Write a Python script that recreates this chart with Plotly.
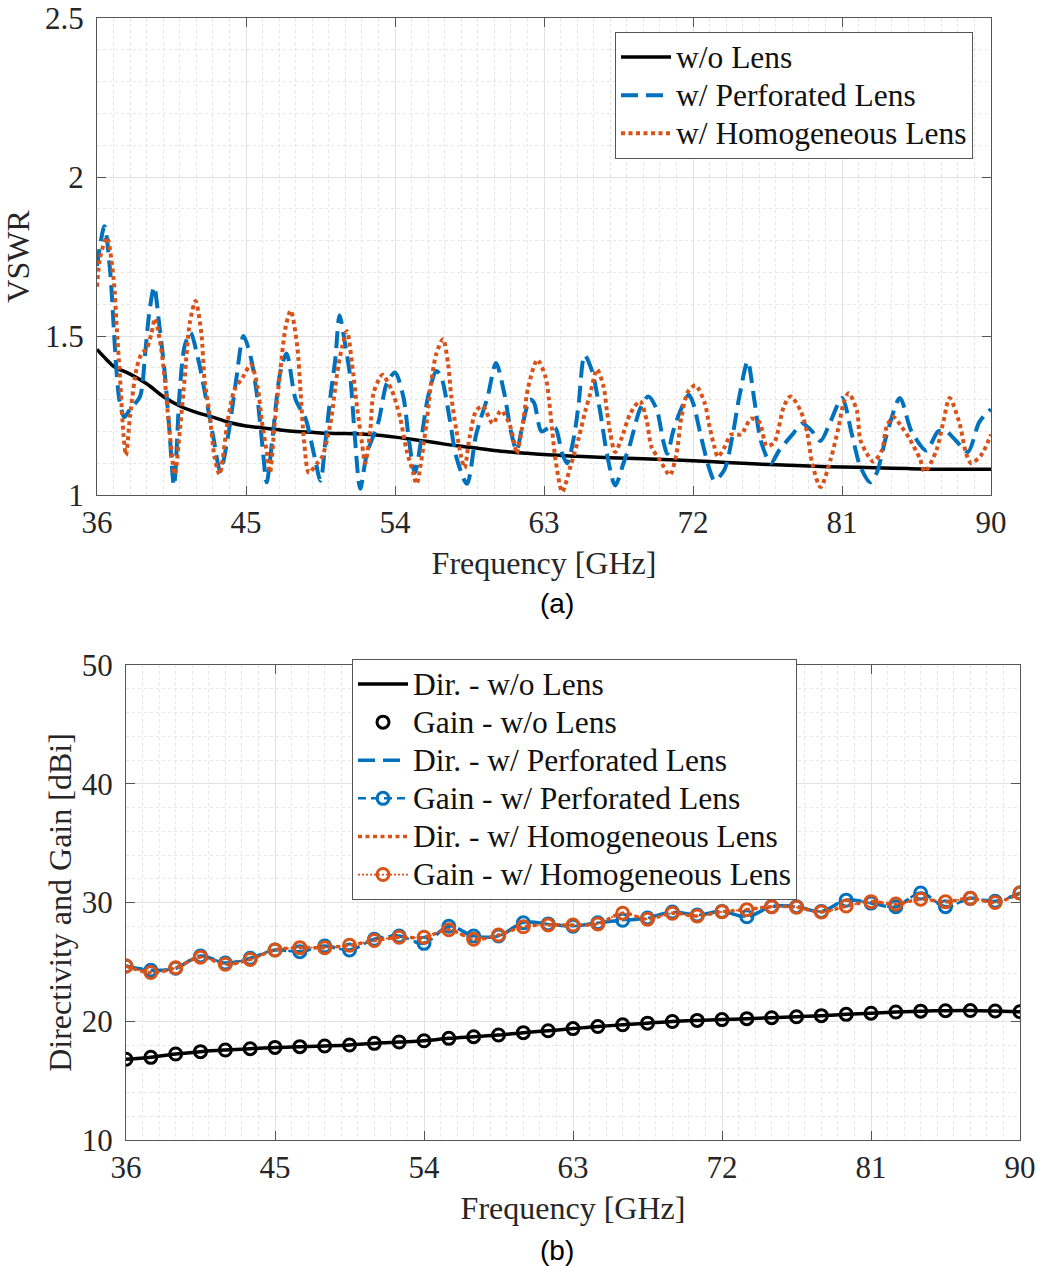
import plotly.graph_objects as go

# ---------------- (a) VSWR data ----------------
f_wo = [36, 36.5, 37, 38, 39, 40, 41, 42, 43, 44, 45, 46, 47, 48, 49, 50, 52, 53, 54, 55, 56, 57, 58, 59, 60,
        61, 62, 63, 65, 67, 69, 71, 73, 75, 77, 79, 81, 83, 85, 87, 89, 90]
vswr_wo = [1.458, 1.43, 1.405, 1.38, 1.35, 1.31, 1.28, 1.26, 1.245, 1.228, 1.217, 1.211, 1.205, 1.200, 1.197,
           1.194, 1.192, 1.188, 1.182, 1.175, 1.168, 1.16, 1.153, 1.147, 1.14, 1.135, 1.131, 1.127, 1.122,
           1.117, 1.114, 1.11, 1.105, 1.10, 1.095, 1.091, 1.088, 1.086, 1.083, 1.081, 1.081, 1.081]

f_perf = [36.0, 36.45, 36.8, 37.1, 37.35, 37.65, 38.0, 38.6, 38.9, 39.15, 39.45, 39.75, 40.1, 40.35, 40.65,
          41.0, 41.3, 41.65, 42.1, 42.6, 43.0, 43.45, 43.9, 44.4, 44.85, 45.3, 45.7, 46.0, 46.25, 46.6,
          47.05, 47.45, 48.0, 48.6, 49.1, 49.5, 49.8, 50.1, 50.4, 50.65, 51.0, 51.3, 51.55, 51.9, 52.3,
          53.0, 53.5, 54.0, 54.5, 54.85, 55.2, 55.6, 56.0, 56.5, 56.8, 57.3, 57.7, 58.35, 58.9, 59.6,
          60.1, 60.6, 61.0, 61.35, 61.7, 62.15, 62.4, 62.85, 63.4, 63.7, 64.1, 64.4, 64.8, 65.1, 65.45,
          65.9, 66.4, 66.8, 67.3, 67.8, 68.2, 68.8, 69.3, 69.8, 70.2, 70.45, 70.8, 71.2, 71.75, 72.0,
          72.5, 73.0, 73.3, 73.9, 74.4, 74.8, 75.3, 75.7, 76.1, 76.7, 77.2, 78.0, 78.6, 79.2, 79.7,
          80.3, 81.0, 81.6, 82.1, 82.7, 83.1, 83.7, 84.5, 85.2, 86.1, 86.8, 87.3, 87.9, 88.6, 89.3, 90.0]
vswr_perf = [1.72, 1.845, 1.70, 1.45, 1.30, 1.245, 1.27, 1.31, 1.44, 1.57, 1.655, 1.54, 1.38, 1.22, 1.03,
             1.33, 1.47, 1.51, 1.43, 1.30, 1.19, 1.075, 1.18, 1.36, 1.50, 1.43, 1.30, 1.15, 1.04, 1.18,
             1.38, 1.445, 1.30, 1.24, 1.13, 1.045, 1.17, 1.31, 1.43, 1.565, 1.47, 1.37, 1.20, 1.02, 1.13,
             1.23, 1.35, 1.385, 1.31, 1.17, 1.07, 1.18, 1.31, 1.39, 1.37, 1.24, 1.12, 1.035, 1.19, 1.31,
             1.415, 1.32, 1.20, 1.14, 1.22, 1.30, 1.29, 1.20, 1.215, 1.21, 1.13, 1.10, 1.18, 1.29, 1.44,
             1.39, 1.26, 1.13, 1.03, 1.10, 1.16, 1.27, 1.31, 1.27, 1.17, 1.13, 1.20, 1.26, 1.315, 1.29,
             1.18, 1.08, 1.045, 1.08, 1.19, 1.31, 1.42, 1.30, 1.17, 1.10, 1.14, 1.19, 1.225, 1.20, 1.17,
             1.23, 1.305, 1.19, 1.09, 1.04, 1.07, 1.19, 1.305, 1.20, 1.14, 1.20, 1.20, 1.17, 1.135, 1.23, 1.27]

f_homo = [36.0, 36.2, 36.6, 37.0, 37.2, 37.4, 37.6, 37.75, 38.0, 38.4, 38.7, 39.0, 39.3, 39.5, 39.85, 40.1,
          40.4, 40.7, 41.0, 41.3, 41.6, 41.95, 42.3, 42.5, 42.8, 43.1, 43.4, 43.9, 44.3, 44.8, 45.3, 45.7,
          45.95, 46.3, 46.45, 46.75, 47.05, 47.4, 47.7, 48.1, 48.3, 48.5, 48.8, 49.3, 49.6, 50.1, 50.5,
          50.8, 51.1, 51.4, 51.7, 52.0, 52.2, 52.5, 52.7, 53.1, 53.25, 53.8, 54.3, 54.7, 55.1, 55.3, 55.9,
          56.2, 56.5, 56.9, 57.2, 57.4, 57.7, 58.0, 58.2, 58.5, 58.9, 59.3, 59.9, 60.4, 60.9, 61.2, 61.35,
          61.75, 62.05, 62.6, 63.1, 63.3, 63.5, 63.7, 64.1, 64.6, 65.1, 65.5, 65.8, 66.2, 66.6, 66.8, 67.0,
          67.3, 67.7, 68.2, 68.8, 69.2, 69.5, 70.0, 70.6, 71.0, 71.3, 71.7, 72.15, 72.7, 73.0, 73.3, 73.5,
          73.9, 74.3, 74.9, 75.1, 75.5, 76.0, 76.45, 76.9, 77.5, 77.9, 78.5, 78.9, 79.2, 79.7, 80.3, 80.8,
          81.1, 81.4, 81.9, 82.1, 82.5, 82.9, 83.4, 83.7, 84.1, 84.6, 85.1, 85.7, 86.0, 86.7, 87.1, 87.5,
          88.1, 88.5, 88.8, 89.4, 90.0]
vswr_homo = [1.655, 1.75, 1.81, 1.68, 1.52, 1.36, 1.19, 1.125, 1.25, 1.40, 1.445, 1.46, 1.51, 1.555, 1.47,
             1.36, 1.19, 1.065, 1.20, 1.37, 1.54, 1.61, 1.51, 1.36, 1.255, 1.12, 1.065, 1.235, 1.33, 1.37,
             1.41, 1.34, 1.235, 1.12, 1.07, 1.235, 1.38, 1.53, 1.58, 1.465, 1.32, 1.175, 1.07, 1.10, 1.12,
             1.225, 1.38, 1.465, 1.515, 1.415, 1.28, 1.165, 1.10, 1.20, 1.32, 1.37, 1.378, 1.33, 1.245,
             1.14, 1.07, 1.035, 1.225, 1.36, 1.445, 1.49, 1.415, 1.31, 1.205, 1.12, 1.085, 1.18, 1.265,
             1.28, 1.225, 1.265, 1.225, 1.165, 1.13, 1.235, 1.34, 1.425, 1.37, 1.30, 1.20, 1.11, 1.01,
             1.09, 1.18, 1.265, 1.32, 1.395, 1.34, 1.265, 1.195, 1.135, 1.18, 1.255, 1.295, 1.235, 1.15,
             1.11, 1.063, 1.13, 1.245, 1.325, 1.345, 1.29, 1.215, 1.15, 1.12, 1.15, 1.19, 1.19, 1.205,
             1.24, 1.23, 1.155, 1.165, 1.28, 1.31, 1.265, 1.195, 1.10, 1.025, 1.11, 1.215, 1.29, 1.32,
             1.265, 1.175, 1.13, 1.105, 1.14, 1.215, 1.245, 1.215, 1.175, 1.115, 1.073, 1.14, 1.225, 1.305,
             1.225, 1.13, 1.10, 1.125, 1.19]

# ---------------- (b) Directivity / Gain data ----------------
f_gain = [36, 37.5, 39, 40.5, 42, 43.5, 45, 46.5, 48, 49.5, 51, 52.5, 54, 55.5, 57, 58.5, 60, 61.5, 63,
          64.5, 66, 67.5, 69, 70.5, 72, 73.5, 75, 76.5, 78, 79.5, 81, 82.5, 84, 85.5, 87, 88.5, 90]
dir_wo = [16.8, 16.96, 17.24, 17.44, 17.58, 17.69, 17.8, 17.86, 17.92, 18.0, 18.14, 18.25, 18.36, 18.56,
          18.7, 18.84, 19.04, 19.2, 19.38, 19.56, 19.7, 19.84, 19.98, 20.07, 20.14, 20.22, 20.3, 20.38,
          20.47, 20.58, 20.68, 20.78, 20.85, 20.89, 20.9, 20.86, 20.8]
gain_wo = dir_wo
dir_perf = [24.65, 24.3, 24.46, 25.5, 24.9, 25.3, 26.0, 25.86, 26.34, 26.0, 26.9, 27.18, 26.56, 28.0,
            27.18, 27.18, 28.3, 28.2, 28.0, 28.3, 28.5, 28.7, 29.2, 28.95, 29.25, 28.8, 29.65, 29.65,
            29.25, 30.2, 29.95, 29.65, 30.8, 29.65, 30.35, 30.1, 30.8]
gain_perf = dir_perf
dir_homo = [24.65, 24.1, 24.5, 25.4, 24.8, 25.2, 26.0, 26.2, 26.2, 26.4, 26.8, 27.07, 27.07, 27.7, 26.9,
            27.26, 27.96, 28.1, 28.1, 28.2, 29.1, 28.6, 29.1, 28.86, 29.22, 29.4, 29.65, 29.6, 29.2,
            29.7, 30.07, 29.87, 30.27, 30.07, 30.35, 30.0, 30.8]
gain_homo = dir_homo

x_ticks = [36, 45, 54, 63, 72, 81, 90]
y_ticks_a = [1, 1.5, 2, 2.5]
y_ticks_a_text = ["1", "1.5", "2", "2.5"]
y_ticks_b = [10, 20, 30, 40, 50]

BLUE = "#0072BD"
ORANGE = "#D95319"
SERIF = "Liberation Serif, Times New Roman, serif"


def lg(name):
    return '<span style="font-size:31.5px">' + name + '</span>'


fig = go.Figure()

# (a)
fig.add_trace(go.Scatter(x=f_wo, y=vswr_wo, name=lg("w/o Lens"), mode="lines",
                         line=dict(color="black", width=3.5, shape="spline"),
                         xaxis="x", yaxis="y", legend="legend", legendgroup="a1"))
fig.add_trace(go.Scatter(x=f_perf, y=vswr_perf, name=lg("w/ Perforated Lens"), mode="lines",
                         line=dict(color=BLUE, width=4, dash="17px,8px", shape="spline", smoothing=0.8),
                         xaxis="x", yaxis="y", legend="legend", legendgroup="a2"))
fig.add_trace(go.Scatter(x=f_homo, y=vswr_homo, name=lg("w/ Homogeneous Lens"), mode="lines",
                         line=dict(color=ORANGE, width=4, dash="4px,3.5px", shape="spline", smoothing=0.8),
                         xaxis="x", yaxis="y", legend="legend", legendgroup="a3"))

# (b)
fig.add_trace(go.Scatter(x=f_gain, y=dir_wo, name=lg("Dir. - w/o Lens"), mode="lines",
                         line=dict(color="black", width=3.5, shape="spline"),
                         xaxis="x2", yaxis="y2", legend="legend2", legendgroup="b1"))
fig.add_trace(go.Scatter(x=f_gain, y=gain_wo, name=lg("Gain - w/o Lens"), mode="markers",
                         marker=dict(symbol="circle-open", size=12, color="black", line=dict(width=3)),
                         xaxis="x2", yaxis="y2", legend="legend2", legendgroup="b2"))
fig.add_trace(go.Scatter(x=f_gain, y=dir_perf, name=lg("Dir. - w/ Perforated Lens"), mode="lines",
                         line=dict(color=BLUE, width=3.5, dash="17px,8px", shape="spline"),
                         xaxis="x2", yaxis="y2", legend="legend2", legendgroup="b3"))
fig.add_trace(go.Scatter(x=f_gain, y=gain_perf, name=lg("Gain - w/ Perforated Lens"), mode="lines+markers",
                         line=dict(color=BLUE, width=2.5, dash="8px,5px", shape="spline"),
                         marker=dict(symbol="circle-open", size=12, color=BLUE, line=dict(width=3)),
                         xaxis="x2", yaxis="y2", legend="legend2", legendgroup="b4"))
fig.add_trace(go.Scatter(x=f_gain, y=dir_homo, name=lg("Dir. - w/ Homogeneous Lens"), mode="lines",
                         line=dict(color=ORANGE, width=3.5, dash="4px,3.5px", shape="spline"),
                         xaxis="x2", yaxis="y2", legend="legend2", legendgroup="b5"))
fig.add_trace(go.Scatter(x=f_gain, y=gain_homo, name=lg("Gain - w/ Homogeneous Lens"), mode="lines+markers",
                         line=dict(color=ORANGE, width=1.8, dash="2px,2px", shape="spline"),
                         marker=dict(symbol="circle-open", size=12, color=ORANGE, line=dict(width=3)),
                         xaxis="x2", yaxis="y2", legend="legend2", legendgroup="b6"))

W, H = 1037, 1266
TXT = "#262626"
AX = dict(showline=True, linecolor="#555555", linewidth=1, mirror="ticks", ticks="inside", ticklen=9,
          tickcolor="#555555", tickwidth=1, showgrid=True, gridcolor="#e2e2e2", gridwidth=1.2, zeroline=False,
          automargin=False, tickfont=dict(family=SERIF, size=31, color=TXT))
MINOR = dict(showgrid=True, gridcolor="#e6e6e6", griddash="dot", gridwidth=1, ticks="")
TFONT = dict(family=SERIF, size=32, color=TXT)

fig.update_layout(
    width=W, height=H, margin=dict(l=0, r=0, t=0, b=0),
    paper_bgcolor="white", plot_bgcolor="white",
    font=dict(family=SERIF, size=26, color=TXT),
    xaxis=dict(AX, domain=[97 / W, 991 / W], anchor="y", range=[36, 90], tickvals=x_ticks,
               minor=dict(MINOR, dtick=1),
               title=dict(text="Frequency [GHz]", font=TFONT, standoff=12)),
    yaxis=dict(AX, domain=[1 - 495 / H, 1 - 18 / H], anchor="x", range=[1, 2.5], tickvals=y_ticks_a,
               ticktext=y_ticks_a_text, minor=dict(MINOR, dtick=0.1), ticklabelstandoff=6,
               title=dict(text="VSWR", font=TFONT, standoff=5)),
    xaxis2=dict(AX, domain=[126 / W, 1020 / W], anchor="y2", range=[36, 90], tickvals=x_ticks,
                minor=dict(MINOR, dtick=1),
                title=dict(text="Frequency [GHz]", font=TFONT, standoff=12)),
    yaxis2=dict(AX, domain=[1 - 1140 / H, 1 - 665 / H], anchor="x2", range=[10, 50], tickvals=y_ticks_b,
                minor=dict(MINOR, dtick=2), ticklabelstandoff=6,
                title=dict(text="Directivity and Gain [dBi]", font=TFONT, standoff=0)),
    legend=dict(x=615 / W, y=1 - 32 / H, xanchor="left", yanchor="top", bgcolor="white",
                bordercolor="#555555", borderwidth=1, font=dict(family=SERIF, size=27, color="#111111"),
                itemwidth=50, tracegroupgap=0, traceorder="normal"),
    legend2=dict(x=352 / W, y=1 - 659 / H, xanchor="left", yanchor="top", bgcolor="white",
                 bordercolor="#555555", borderwidth=1, font=dict(family=SERIF, size=27, color="#111111"),
                 itemwidth=50, tracegroupgap=0, traceorder="normal"),
    annotations=[
        dict(text="(a)", x=557 / W, y=1 - 603 / H, xref="paper", yref="paper", showarrow=False,
             xanchor="center", yanchor="middle",
             font=dict(family="Liberation Sans, Arial, sans-serif", size=28, color="black")),
        dict(text="(b)", x=557 / W, y=1 - 1250 / H, xref="paper", yref="paper", showarrow=False,
             xanchor="center", yanchor="middle",
             font=dict(family="Liberation Sans, Arial, sans-serif", size=28, color="black")),
    ],
)

fig.write_html("out.html")
